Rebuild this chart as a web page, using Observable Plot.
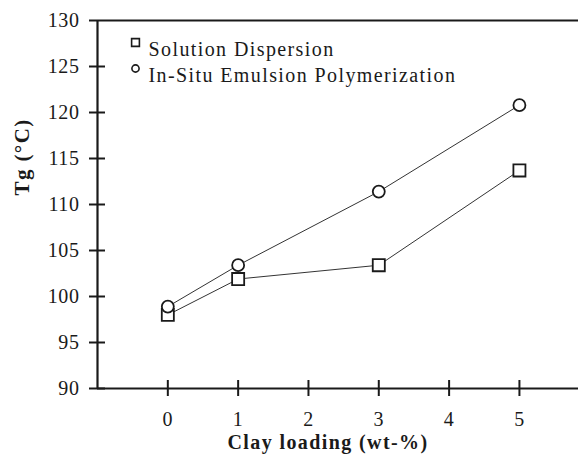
<!DOCTYPE html>
<html>
<head>
<meta charset="utf-8">
<script src="https://cdn.jsdelivr.net/npm/d3@7"></script>
<script src="https://cdn.jsdelivr.net/npm/@observablehq/plot@0.6"></script>
<style>
  html, body { margin: 0; padding: 0; background: #fff; }
  #chart svg text { font-family: "Liberation Serif", "Times New Roman", serif; }
  #chart svg g[aria-label="text"] text { letter-spacing: 1.4px; }
  #chart svg g[aria-label$="tick label"] text { letter-spacing: 0.6px; }
</style>
</head>
<body>
<div id="chart"></div>
<script>
const clayLoading = [0, 1, 3, 5];
const solutionDispersion = [98.0, 101.9, 103.4, 113.7];
const inSituEmulsion = [98.9, 103.4, 111.4, 120.8];
const xTicks = [0, 1, 2, 3, 4, 5];
const yTicks = [90, 95, 100, 105, 110, 115, 120, 125, 130];
const seriesNames = ["Solution Dispersion", "In-Situ Emulsion Polymerization"];
const xLabel = "Clay loading (wt-%)";
const yLabel = "Tg (°C)";

const sol = clayLoading.map((x, i) => ({x, y: solutionDispersion[i]}));
const ins = clayLoading.map((x, i) => ({x, y: inSituEmulsion[i]}));

const ink = "#1a1a1a";

const chart = Plot.plot({
  width: 578,
  height: 456,
  marginLeft: 97,
  marginRight: 0,
  marginTop: 20,
  marginBottom: 68,
  style: {background: "#fff", color: ink, fontSize: "20px", fontFamily: "Liberation Serif, serif", overflow: "visible"},
  x: {domain: [-1, 5.84]},
  y: {domain: [90, 130]},
  marks: [
    Plot.ruleY([130], {stroke: ink, strokeWidth: 2}),
    Plot.ruleY([90], {stroke: ink, strokeWidth: 2.2}),
    Plot.ruleX([-1], {stroke: ink, strokeWidth: 2.2}),
    Plot.axisY({ticks: yTicks, tickSize: 8, tickPadding: 10, tickFormat: d => d, label: null, strokeWidth: 2, fontSize: 20}),
    Plot.axisY({ticks: yTicks.slice(0, -1), tickSize: -8, tickFormat: () => "", label: null, strokeWidth: 2}),
    Plot.axisX({ticks: xTicks, tickSize: 8, tickPadding: 15, tickFormat: d => d, label: null, strokeWidth: 2, fontSize: 20}),
    Plot.axisX({ticks: xTicks, tickSize: -8, tickFormat: () => "", label: null, strokeWidth: 2}),
    Plot.line(sol, {x: "x", y: "y", stroke: "#333", strokeWidth: 1}),
    Plot.line(ins, {x: "x", y: "y", stroke: "#333", strokeWidth: 1}),
    Plot.dot(sol, {x: "x", y: "y", symbol: "square", r: 6.8, fill: "white", stroke: ink, strokeWidth: 1.8}),
    Plot.dot(ins, {x: "x", y: "y", symbol: "circle", r: 6, fill: "white", stroke: ink, strokeWidth: 1.8}),
    // legend
    Plot.dot([seriesNames[0]], {frameAnchor: "top-left", dx: 38, dy: 22, symbol: "square", r: 4.4, fill: "white", stroke: ink, strokeWidth: 1.6}),
    Plot.dot([seriesNames[1]], {frameAnchor: "top-left", dx: 38, dy: 48, symbol: "circle", r: 3.6, fill: "white", stroke: ink, strokeWidth: 1.6}),
    Plot.text([seriesNames[0]], {text: d => d, frameAnchor: "top-left", dx: 51, dy: 21, textAnchor: "start", fontSize: 20, fill: ink}),
    Plot.text([seriesNames[1]], {text: d => d, frameAnchor: "top-left", dx: 51, dy: 47, textAnchor: "start", fontSize: 20, fill: ink}),
    // axis titles
    Plot.text([xLabel], {text: d => d, frameAnchor: "bottom", dx: -10, dy: 60, fontSize: 20, fontWeight: "bold", fill: ink}),
    Plot.text([yLabel], {text: d => d, frameAnchor: "left", dx: -75, dy: -9, rotate: -90, fontSize: 21, fontWeight: "bold", fill: ink})
  ]
});

document.getElementById("chart").appendChild(chart);
</script>
</body>
</html>
